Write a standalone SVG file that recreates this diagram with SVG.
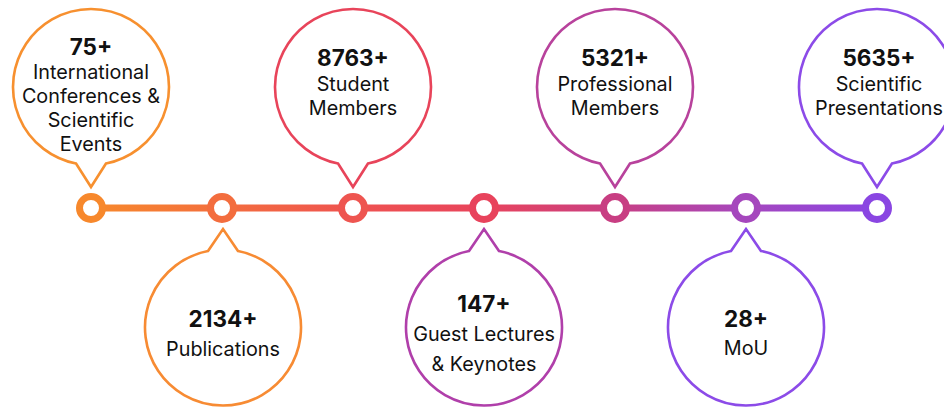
<svg xmlns="http://www.w3.org/2000/svg" width="944" height="407" viewBox="0 0 944 407">
<defs>
<linearGradient id="lineGrad" gradientUnits="userSpaceOnUse" x1="91" y1="0" x2="877" y2="0">
<stop offset="0" stop-color="#F7892B"/>
<stop offset="0.33" stop-color="#EF5350"/>
<stop offset="0.5" stop-color="#E8445C"/>
<stop offset="0.67" stop-color="#C73F85"/>
<stop offset="0.83" stop-color="#A647BD"/>
<stop offset="1" stop-color="#8A45E3"/>
</linearGradient>
<style>
.bubble{fill:#fff;stroke-width:2.6;stroke-linejoin:miter}
.dot{fill:#fff;stroke-width:7}
.num{font-family:Inter,"Liberation Sans",sans-serif;font-weight:700;font-size:22.5px;fill:#111;text-anchor:middle}
.lbl{font-family:Inter,"Liberation Sans",sans-serif;font-weight:400;font-size:19.8px;fill:#111;text-anchor:middle}
</style>
</defs>
<rect width="944" height="407" fill="#fff"/>
<g id="connectors">
<line x1="91" y1="208" x2="877" y2="208" stroke="url(#lineGrad)" stroke-width="7"/>
</g>
<g id="dots">
<circle class="dot" cx="91" cy="208" r="11.5" stroke="#F7882C"/>
<circle class="dot" cx="222" cy="208" r="11.5" stroke="#F36D3E"/>
<circle class="dot" cx="353" cy="208" r="11.5" stroke="#EE5550"/>
<circle class="dot" cx="484" cy="208" r="11.5" stroke="#E8435C"/>
<circle class="dot" cx="615" cy="208" r="11.5" stroke="#C83E82"/>
<circle class="dot" cx="746" cy="208" r="11.5" stroke="#A547BD"/>
<circle class="dot" cx="877" cy="208" r="11.5" stroke="#8A46E2"/>
</g>
<g id="node-conferences">
<path class="bubble" stroke="#F7902F" d="M76,163.5 A78,78 0 1 1 106,163.5 L91,187 Z"/>
<text class="num" x="91" y="55">75+</text>
<text class="lbl" x="91" y="79">International</text>
<text class="lbl" x="91" y="103">Conferences &amp;</text>
<text class="lbl" x="91" y="127">Scientific</text>
<text class="lbl" x="91" y="151">Events</text>
</g>
<g id="node-publications">
<path class="bubble" stroke="#F78B33" d="M238,251 A78,78 0 1 1 208,251 L223,229 Z"/>
<text class="num" x="223" y="327">2134+</text>
<text class="lbl" x="223" y="356">Publications</text>
</g>
<g id="node-students">
<path class="bubble" stroke="#E8445A" d="M338,163.5 A78,78 0 1 1 368,163.5 L353,187 Z"/>
<text class="num" x="353" y="66">8763+</text>
<text class="lbl" x="353" y="90.5">Student</text>
<text class="lbl" x="353" y="114.5">Members</text>
</g>
<g id="node-lectures">
<path class="bubble" stroke="#B03FAA" d="M499,251 A78,78 0 1 1 469,251 L484,229 Z"/>
<text class="num" x="484" y="312">147+</text>
<text class="lbl" x="484" y="341">Guest Lectures</text>
<text class="lbl" x="484" y="370.5">&amp; Keynotes</text>
</g>
<g id="node-professionals">
<path class="bubble" stroke="#B8429C" d="M600,163.5 A78,78 0 1 1 630,163.5 L615,187 Z"/>
<text class="num" x="615" y="66">5321+</text>
<text class="lbl" x="615" y="90.5">Professional</text>
<text class="lbl" x="615" y="114.5">Members</text>
</g>
<g id="node-mou">
<path class="bubble" stroke="#8C4BE8" d="M761,251 A78,78 0 1 1 731,251 L746,229 Z"/>
<text class="num" x="746" y="327">28+</text>
<text class="lbl" x="746" y="355">MoU</text>
</g>
<g id="node-presentations">
<path class="bubble" stroke="#8C4BE8" d="M862,163.5 A78,78 0 1 1 892,163.5 L877,187 Z"/>
<text class="num" x="879" y="66">5635+</text>
<text class="lbl" x="879" y="90.5">Scientific</text>
<text class="lbl" x="879" y="114.5">Presentations</text>
</g>
</svg>
